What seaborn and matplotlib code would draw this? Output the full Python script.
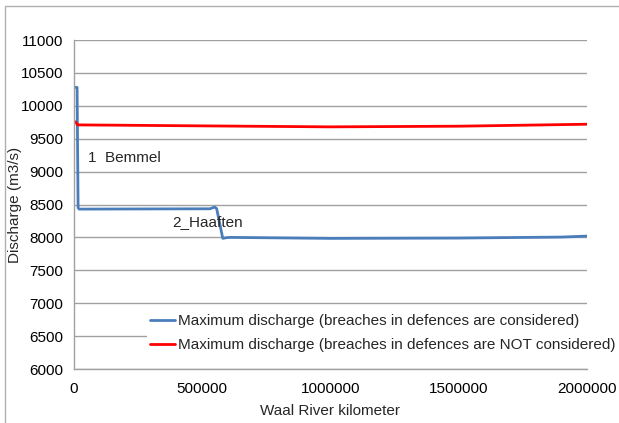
import matplotlib
matplotlib.use("Agg")
import matplotlib.pyplot as plt
import seaborn as sns
from matplotlib.patches import Rectangle

# data
km_blue = [0, 12000, 16000, 20000, 530000, 548000, 556000, 580000, 592000, 610000, 1000000, 1500000, 1900000, 2000000]
q_blue = [10280, 10280, 8450, 8430, 8435, 8460, 8440, 7985, 7995, 8000, 7985, 7990, 8005, 8020]

km_red = [0, 6000, 14000, 500000, 1000000, 1500000, 2000000]
q_red = [9760, 9755, 9710, 9695, 9680, 9690, 9720]

label_blue = "Maximum discharge (breaches in defences are considered)"
label_red = "Maximum discharge (breaches in defences are NOT considered)"

yticks = list(range(6000, 11001, 500))
xticks = [0, 500000, 1000000, 1500000, 2000000]

sns.set_style("white")
plt.rcParams['font.family'] = ['Liberation Sans', 'DejaVu Sans']

fig = plt.figure(figsize=(6.19, 4.23), dpi=100)
ax = fig.add_axes([74 / 619, 1 - 369 / 423, 513 / 619, 329 / 423])

sns.lineplot(x=km_blue, y=q_blue, ax=ax, color="#4A7EBB", linewidth=2.0, label=label_blue)
sns.lineplot(x=km_red, y=q_red, ax=ax, color="#FF0000", linewidth=2.0, label=label_red)

ax.set_xlim(0, 2000000)
ax.set_ylim(6000, 11000)
ax.set_yticks(yticks)
ax.set_xticks(xticks)
ax.set_xticklabels([str(v) for v in xticks])
ax.set_yticklabels([str(v) for v in yticks])
ax.tick_params(axis='both', labelsize=11, colors='black')
ax.tick_params(axis='x', length=4, width=1, color='#888888', direction='out', pad=5)
ax.tick_params(axis='y', length=0, pad=8)
ax.yaxis.grid(True, color='#A0A0A0', linewidth=1)
ax.set_axisbelow(True)
for s in ['top', 'right']:
    ax.spines[s].set_visible(False)
for s in ['left', 'bottom']:
    ax.spines[s].set_color('#A0A0A0')
    ax.spines[s].set_linewidth(1)

ax.set_xlabel("Waal River kilometer", fontsize=11, labelpad=6)
ax.set_ylabel("Discharge (m3/s)", fontsize=11)
ax.yaxis.set_label_coords(-0.102, 0.5)

ax.text(54600, 9207, "1  Bemmel", fontsize=11, va='center', ha='left')
ax.text(382000, 8234, "2_Haaften", fontsize=11, va='center', ha='left')

leg = ax.legend(loc='upper left', bbox_to_anchor=(147 / 619, 1 - 311 / 423),
                bbox_transform=fig.transFigure, frameon=True, fontsize=11,
                borderpad=0.2, borderaxespad=0, handlelength=1.65, handletextpad=0.2,
                labelspacing=0.68, fancybox=False)
leg.get_frame().set_facecolor('white')
leg.get_frame().set_edgecolor('none')
leg.get_frame().set_alpha(1)

# outer border of the chart area (only top and left visible)
fig.patches.append(Rectangle((5 / 619, -0.05), 1.2, 1 - 6 / 423 + 0.05,
                             transform=fig.transFigure, fill=False,
                             edgecolor='#B0B0B0', linewidth=1))

fig.savefig("out.png", dpi=100)
